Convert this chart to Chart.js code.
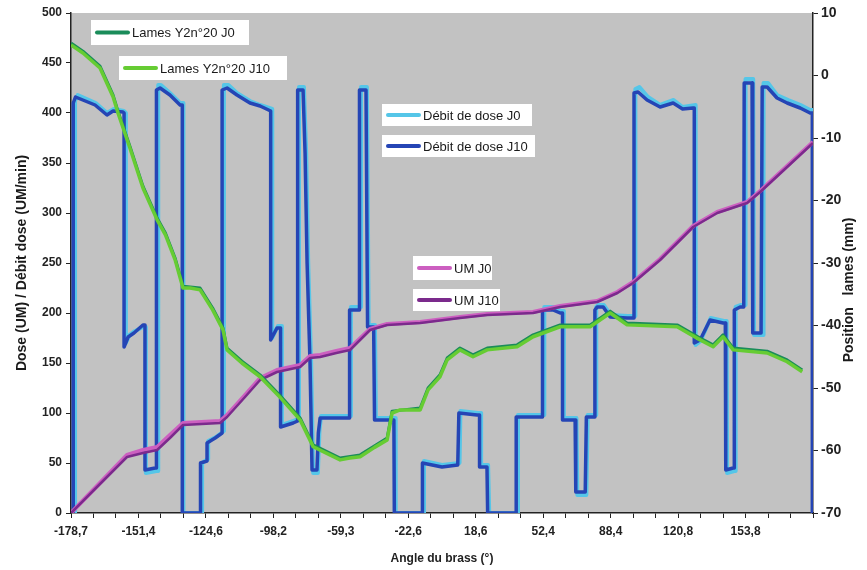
<!DOCTYPE html>
<html>
<head>
<meta charset="utf-8">
<script src="https://cdn.jsdelivr.net/npm/chart.js@4.4.0/dist/chart.umd.min.js"></script>
<style>
  html, body { margin: 0; padding: 0; background: #fff; }
</style>
</head>
<body>
<canvas id="myChart" width="867" height="570"></canvas>
<script>
// tick labels of the angle axis (one every 3 ticks)
const angleLabels = ['-178,7', '-151,4', '-124,6', '-98,2', '-59,3', '-22,6', '18,6', '52,4', '88,4', '120,8', '153,8'];

// [angle position (tick index), value]
const lamesJ10 = [[0,4.9],[0.53,3.6],[1.29,1.2],[1.87,-3.4],[2.09,-6.0],[2.62,-11.6],[3.2,-18],[3.83,-23.1],[4.2,-25.5],[4.63,-29.5],[4.98,-34.0],[5.3,-34.0],[5.74,-34.3],[6.3,-37.5],[6.76,-40.7],[6.94,-43.9],[7.6,-46],[8.41,-48.2],[9.3,-51.5],[10.19,-55.1],[10.77,-59.4],[11.4,-60.5],[11.97,-61.5],[12.4,-61.2],[12.86,-61.0],[13.5,-59.5],[14.06,-58.3],[14.28,-54.0],[14.64,-53.5],[15.53,-53.5],[15.88,-50.3],[16.41,-48.2],[16.73,-45.5],[17.3,-43.9],[17.88,-45.0],[18.51,-43.9],[19.84,-43.4],[20.55,-41.8],[21.75,-40.2],[23.09,-40.2],[23.98,-38.0],[24.73,-39.9],[26.96,-40.2],[27.98,-42.3],[28.56,-43.4],[29.0,-41.8],[29.45,-43.9],[30.96,-44.4],[31.85,-45.8],[32.52,-47.4]];

const lamesJ0 = [[0,5.2],[0.53,3.9],[1.29,1.5],[1.87,-3.1],[2.09,-5.7],[2.62,-11.3],[3.2,-17.7],[3.83,-22.8],[4.2,-25.2],[4.63,-29.2],[4.98,-33.7],[5.74,-34.0],[6.3,-37.2],[6.76,-40.4],[6.94,-43.6],[7.6,-45.7],[8.41,-47.9],[9.3,-51.2],[10.19,-54.8],[10.77,-59.1],[11.97,-61.2],[12.86,-60.7],[14.06,-58.0],[14.28,-53.7],[15.53,-53.2],[15.88,-50.0],[16.41,-47.9],[16.73,-45.2],[17.3,-43.6],[17.88,-44.7],[18.51,-43.6],[19.84,-43.1],[20.55,-41.5],[21.75,-39.9],[23.09,-39.9],[23.98,-37.7],[24.73,-39.6],[26.96,-39.9],[27.98,-42.0],[28.56,-43.1],[29.0,-41.5],[29.45,-43.6],[30.96,-44.1],[31.85,-45.5],[32.52,-47.1]];

const umJ10 = [[0,0],[1.2,27],[2.49,56],[3.2,60],[3.83,63],[4.4,75],[4.98,88],[5.8,89],[6.63,90],[6.94,96],[7.7,115],[8.41,133],[9.16,141],[10.19,146],[10.63,155],[11.08,156],[11.8,160],[12.41,163],[13.3,183],[14.06,188],[15.53,190],[17.3,195],[18.51,198],[20.55,200],[21.75,206],[23.4,211],[24.3,220],[25.0,230],[26.2,253],[27.67,286],[28.74,300],[30.07,310],[30.65,321],[31.85,346],[33,370]];

const umJ0 = [[0,0],[1.2,28],[2.49,58],[3.2,63],[3.83,66],[4.4,78],[4.98,90],[5.8,91],[6.63,92],[6.94,98],[7.7,117],[8.41,135],[9.16,143],[10.19,148],[10.63,157],[11.08,158],[11.8,162],[12.41,165],[13.3,184],[14.06,189],[15.53,191],[17.3,196],[18.51,199],[20.55,201],[21.75,207],[23.4,212],[24.3,221],[25.0,231],[26.2,254],[27.67,287],[28.74,301],[30.07,311],[30.65,322],[31.85,347],[33,371]];

const debitJ10 = [[0,0],[0.1,0],[0.1,410],[0.2,416],[1.07,408],[1.6,398],[1.87,402],[2.31,401],[2.36,400],[2.36,166],[2.54,176],[2.8,180],[3.2,188],[3.29,188],[3.29,43],[3.74,45],[3.8,45],[3.8,423],[3.96,425],[4.4,418],[4.85,408],[4.95,408],[4.95,0],[5.76,0],[5.76,50],[6.05,52],[6.05,70],[6.41,75],[6.72,80],[6.72,423],[6.94,425],[7.38,418],[7.96,410],[8.41,407],[8.88,402],[8.88,173],[9.16,185],[9.32,185],[9.32,86],[9.88,90],[10.08,92],[10.08,423],[10.32,423],[10.41,360],[10.5,250],[10.63,150],[10.72,43],[10.94,43],[11.0,80],[11.08,95],[12.28,95],[12.39,95],[12.39,203],[12.72,203],[12.83,203],[12.83,423],[13.12,423],[13.19,186],[13.46,186],[13.5,93],[14.19,93],[14.36,93],[14.38,0],[15.63,0],[15.63,50],[16.5,46],[17.2,48],[17.25,100],[18.06,98],[18.17,98],[18.17,46],[18.5,46],[18.53,0],[19.8,0],[19.8,96],[20.86,96],[20.97,96],[20.97,203],[21.44,203],[21.75,200],[21.86,200],[21.86,93],[22.33,93],[22.42,93],[22.45,21],[22.87,21],[22.92,96],[23.22,96],[23.3,96],[23.3,203],[23.4,206],[23.67,206],[23.98,196],[24.73,195],[25.04,195],[25.04,420],[25.22,421],[25.62,413],[26.2,406],[26.78,410],[27.2,404],[27.67,405],[27.72,405],[27.72,170],[27.98,173],[28.42,193],[29.0,190],[29.1,190],[29.12,43],[29.45,45],[29.5,45],[29.5,203],[29.76,206],[29.92,206],[29.94,430],[30.29,430],[30.32,180],[30.69,180],[30.72,180],[30.74,426],[30.96,426],[31.4,415],[31.85,410],[32.43,405],[32.87,400],[32.97,400],[32.97,0]];

const debitJ0 = [[0,0],[0.18,0],[0.18,412],[0.3,418],[1.1,410],[1.6,400],[1.9,404],[2.35,402],[2.44,400],[2.44,170],[2.6,178],[2.85,182],[3.2,186],[3.33,186],[3.33,40],[3.8,42],[3.88,42],[3.88,428],[4.0,428],[4.4,420],[4.85,410],[5.0,410],[5.0,0],[5.83,0],[5.83,50],[6.1,54],[6.1,72],[6.45,76],[6.8,82],[6.8,428],[7.0,428],[7.38,420],[7.96,412],[8.41,408],[8.95,404],[8.95,175],[9.2,187],[9.38,187],[9.38,88],[9.9,92],[10.14,94],[10.14,426],[10.36,426],[10.46,360],[10.55,250],[10.68,150],[10.77,40],[10.98,40],[11.05,82],[11.12,97],[12.3,97],[12.45,97],[12.45,206],[12.76,206],[12.9,206],[12.9,426],[13.16,426],[13.24,188],[13.52,188],[13.56,95],[14.2,95],[14.42,95],[14.44,0],[15.7,0],[15.7,52],[16.5,48],[17.28,50],[17.32,102],[18.1,100],[18.24,100],[18.24,48],[18.55,48],[18.6,0],[19.88,0],[19.88,98],[20.9,98],[21.05,98],[21.05,206],[21.44,206],[21.78,202],[21.92,202],[21.92,95],[22.36,95],[22.48,95],[22.52,18],[22.92,18],[22.98,98],[23.26,98],[23.36,98],[23.36,206],[23.45,208],[23.7,208],[24.0,198],[24.76,197],[25.1,197],[25.1,424],[25.28,426],[25.66,416],[26.2,408],[26.8,413],[27.2,406],[27.78,408],[27.78,168],[28.0,172],[28.45,195],[29.04,192],[29.16,192],[29.18,40],[29.5,42],[29.56,42],[29.56,206],[29.8,208],[29.98,208],[30.0,434],[30.34,434],[30.38,178],[30.74,178],[30.78,178],[30.8,430],[31.0,430],[31.4,418],[31.9,413],[32.45,408],[32.87,403],[33,403],[33,0]];

// where each legend entry sits (Excel-like free floating boxes)
const legendSpots = {
  'Lames Y2n°20 J0':  { x: 91,  y: 20,  w: 158, h: 25 },
  'Lames Y2n°20 J10': { x: 119, y: 56,  w: 168, h: 24 },
  'Débit de dose J0': { x: 382, y: 104, w: 150, h: 22 },
  'Débit de dose J10':{ x: 382, y: 135, w: 153, h: 22 },
  'UM J0':            { x: 413, y: 256, w: 79,  h: 24 },
  'UM J10':           { x: 413, y: 289, w: 87,  h: 22 }
};

const plotBackground = {
  id: 'plotBackground',
  beforeDraw(chart) {
    const { ctx, chartArea: a } = chart;
    ctx.save();
    ctx.fillStyle = '#c2c2c2';
    ctx.fillRect(a.left, a.top, a.right - a.left, a.bottom - a.top);
    ctx.restore();
  }
};

const floatingLegend = {
  id: 'floatingLegend',
  afterDatasetsDraw(chart) {
    const ctx = chart.ctx;
    ctx.save();
    chart.data.datasets.forEach(ds => {
      const s = legendSpots[ds.label];
      if (!s) return;
      ctx.fillStyle = '#fff';
      ctx.fillRect(s.x, s.y, s.w, s.h);
      const cy = s.y + s.h / 2;
      ctx.strokeStyle = ds.borderColor;
      ctx.lineWidth = 4;
      ctx.lineCap = 'round';
      ctx.beginPath();
      ctx.moveTo(s.x + 6, cy);
      ctx.lineTo(s.x + 37, cy);
      ctx.stroke();
      ctx.fillStyle = '#1a1a1a';
      ctx.font = '13px "Liberation Sans", Arial, sans-serif';
      ctx.textBaseline = 'middle';
      ctx.fillText(ds.label, s.x + 41, cy + 1);
    });
    ctx.restore();
  },
  afterDraw(chart) {
    // right axis title reads bottom to top, like the left one
    const ctx = chart.ctx;
    const t = chart.options.scales.y2.title.text;
    ctx.save();
    ctx.translate(849, 290);
    ctx.rotate(-Math.PI / 2);
    ctx.font = 'bold 14px "Liberation Sans", Arial, sans-serif';
    ctx.fillStyle = '#1a1a1a';
    ctx.textAlign = 'center';
    ctx.textBaseline = 'middle';
    ctx.fillText(t, 0, 0);
    ctx.restore();
  }
};

const boldFont = (size) => ({ family: '"Liberation Sans", Arial, sans-serif', size: size, weight: 'bold' });

var ctx = document.getElementById('myChart').getContext('2d');
var myChart = new Chart(ctx, {
  type: 'line',
  data: {
    datasets: [
      { label: 'Lames Y2n°20 J10', data: lamesJ10, yAxisID: 'y2', borderColor: '#66cc33', borderWidth: 3.5 },
      { label: 'Lames Y2n°20 J0', data: lamesJ0, yAxisID: 'y2', borderColor: '#1a8c5a', borderWidth: 3 },
      { label: 'UM J10', data: umJ10, yAxisID: 'y', borderColor: '#7b2a8c', borderWidth: 2.5 },
      { label: 'UM J0', data: umJ0, yAxisID: 'y', borderColor: '#cc5fc0', borderWidth: 4 },
      { label: 'Débit de dose J10', data: debitJ10, yAxisID: 'y', borderColor: '#2545b5', borderWidth: 3.5 },
      { label: 'Débit de dose J0', data: debitJ0, yAxisID: 'y', borderColor: '#55c6e8', borderWidth: 4 }
    ]
  },
  options: {
    responsive: false,
    animation: false,
    devicePixelRatio: 1,
    layout: { padding: { top: 13, right: 0, bottom: 0, left: 0 } },
    elements: {
      point: { radius: 0 },
      line: { tension: 0, fill: false, borderJoinStyle: 'round' }
    },
    plugins: {
      legend: { display: false },
      tooltip: { enabled: false }
    },
    scales: {
      x: {
        type: 'linear',
        position: 'bottom',
        min: 0,
        max: 33,
        afterFit: s => { s.height = 57; },
        border: { color: '#222', width: 1.5 },
        grid: { drawOnChartArea: false, drawTicks: true, tickLength: 5, color: '#222' },
        ticks: {
          stepSize: 1,
          autoSkip: false,
          maxRotation: 0,
          padding: 6,
          color: '#222',
          font: { family: '"Liberation Sans Narrow", "Liberation Sans", Arial, sans-serif', size: 12, weight: 'bold' },
          callback: v => (v % 3 === 0 && v <= 30) ? angleLabels[v / 3] : ''
        },
        title: { display: true, text: 'Angle du brass (°)', color: '#222', font: boldFont(12), padding: { top: 10, bottom: 4 } }
      },
      y: {
        position: 'left',
        min: 0,
        max: 500,
        afterFit: s => { s.width = 71; },
        border: { color: '#222', width: 1.5 },
        grid: { drawOnChartArea: false, tickLength: 5, color: '#222' },
        ticks: { stepSize: 50, padding: 4, color: '#222', font: boldFont(12) },
        title: { display: true, text: 'Dose (UM) / Débit dose (UM/min)', color: '#1a1a1a', font: boldFont(14), padding: { top: 14, bottom: 14 } }
      },
      y2: {
        position: 'right',
        min: -70,
        max: 10,
        afterFit: s => { s.width = 54; },
        border: { color: '#222', width: 1.5 },
        grid: { drawOnChartArea: false, tickLength: 5, color: '#222' },
        ticks: { stepSize: 10, padding: 3, color: '#222', font: boldFont(14) },
        title: { display: false, text: 'Position   lames (mm)' }
      }
    }
  },
  plugins: [plotBackground, floatingLegend]
});
</script>
</body>
</html>
